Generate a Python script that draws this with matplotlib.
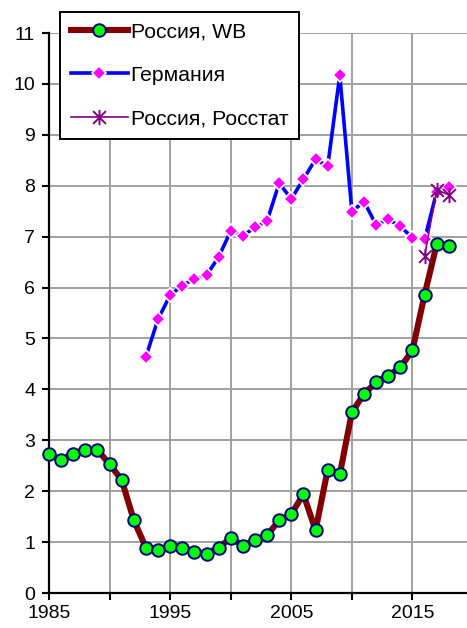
import matplotlib
matplotlib.use('Agg')
import matplotlib.pyplot as plt
from matplotlib.path import Path
import numpy as np

plt.rcParams['font.family'] = ['Liberation Sans', 'DejaVu Sans']

# data
years_wb = np.arange(1985, 2019)
russia_wb = [2.73, 2.61, 2.74, 2.81, 2.81, 2.53, 2.22, 1.43, 0.89, 0.85,
             0.93, 0.89, 0.81, 0.77, 0.89, 1.08, 0.93, 1.04, 1.13, 1.43,
             1.55, 1.94, 1.23, 2.42, 2.33, 3.55, 3.91, 4.14, 4.27, 4.43,
             4.77, 5.86, 6.85, 6.82]

years_de = np.arange(1993, 2019)
germany = [4.64, 5.38, 5.85, 6.04, 6.17, 6.24, 6.60, 7.11, 7.02, 7.18,
           7.31, 8.05, 7.74, 8.13, 8.52, 8.38, 10.17, 7.49, 7.69, 7.23,
           7.34, 7.20, 6.98, 6.95, 7.88, 7.98]

years_rs = [2016, 2017, 2018]
russia_rs = [6.62, 7.92, 7.82]

labels = ['Россия, WB', 'Германия', 'Россия, Росстат']
xticks = list(range(1985, 2020, 5))
xticklabels = ['1985', '', '1995', '', '2005', '', '2015']

# star marker like Excel: X plus a vertical bar
star = Path([(-1, -1), (1, 1), (-1, 1), (1, -1), (0, -1.2), (0, 1.2)],
            [Path.MOVETO, Path.LINETO, Path.MOVETO, Path.LINETO, Path.MOVETO, Path.LINETO])

fig = plt.figure(figsize=(4.67, 6.28), dpi=100)
ax = fig.add_axes([49/467, 35/628, 418/467, 560/628])

l2, = ax.plot(years_de, germany, color='#0000FF', lw=2.6, marker='D', ms=7,
              mfc='#FF00FF', mec='white', mew=1.2, zorder=3, clip_on=False)
l1, = ax.plot(years_wb, russia_wb, color='#800000', lw=4.4, marker='o', ms=9,
              mfc='#00FF00', mec='#000080', mew=1.4, zorder=4, clip_on=False)
l3, = ax.plot(years_rs, russia_rs, color='#800080', lw=1.2, marker=star, ms=11,
              mfc='none', mec='#800080', mew=1.4, zorder=5, clip_on=False)

ax.set_xlim(1985, 2019.5)
ax.set_ylim(0, 11)
ax.set_xticks(xticks)
ax.set_xticklabels(xticklabels)
ax.set_yticks(range(0, 12))
ax.tick_params(axis='both', labelsize=14, length=5, width=1.5, direction='out', colors='black')
ax.tick_params(axis='x', pad=4)
ax.tick_params(axis='y', pad=5)

ax.grid(True, color='#A0A0A0', lw=1.4)
ax.set_axisbelow(True)
for s in ['top', 'right']:
    ax.spines[s].set_visible(False)
for s in ['left', 'bottom']:
    ax.spines[s].set_linewidth(1.6)

leg = ax.legend([l1, l2, l3], labels, loc='upper left',
                bbox_to_anchor=(60/467, 1 - 12/628), bbox_transform=fig.transFigure,
                borderaxespad=0, fontsize=15.2, handlelength=2.7, handletextpad=0.15,
                labelspacing=1.15, borderpad=0.5, fancybox=False, framealpha=1,
                edgecolor='black')
leg.get_frame().set_linewidth(1.4)
leg.set_zorder(10)

plt.savefig('out.png', dpi=100)
